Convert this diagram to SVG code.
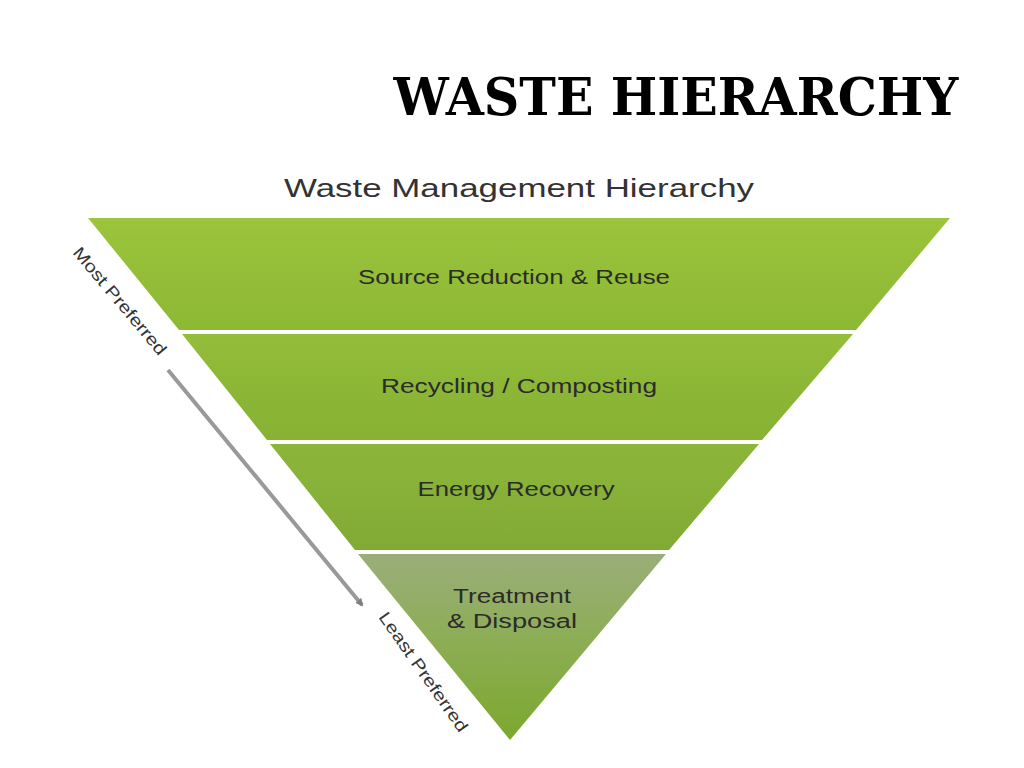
<svg xmlns="http://www.w3.org/2000/svg" width="1024" height="768" viewBox="0 0 1024 768">
<defs>
<linearGradient id="g1" x1="0" y1="0" x2="0" y2="1"><stop offset="0" stop-color="#9cc43c"/><stop offset="1" stop-color="#8cb834"/></linearGradient>
<linearGradient id="g2" x1="0" y1="0" x2="0" y2="1"><stop offset="0" stop-color="#93bd3a"/><stop offset="1" stop-color="#86b132"/></linearGradient>
<linearGradient id="g3" x1="0" y1="0" x2="0" y2="1"><stop offset="0" stop-color="#8cb63a"/><stop offset="1" stop-color="#80aa34"/></linearGradient>
<linearGradient id="g4" x1="0" y1="0" x2="0" y2="1"><stop offset="0" stop-color="#9aae7a"/><stop offset="0.5" stop-color="#8cad52"/><stop offset="1" stop-color="#7aa82e"/></linearGradient>
<marker id="ah" markerWidth="8" markerHeight="8" refX="6" refY="4" orient="auto" markerUnits="userSpaceOnUse"><path d="M0,0 L8,4 L0,8 z" fill="#808080"/></marker>
<style>.lbl{font-family:"Liberation Sans",Arial,sans-serif;font-size:20px;fill:#2b2b2b;text-anchor:middle}
.side{font-family:"Liberation Sans",Arial,sans-serif;font-size:17px;fill:#333}</style>
</defs>
<rect width="1024" height="768" fill="#fff"/>
<text x="676" y="115" font-family="DejaVu Serif, serif" font-weight="bold" font-size="52" text-anchor="middle" textLength="565" lengthAdjust="spacingAndGlyphs" fill="#000">WASTE HIERARCHY</text>
<text x="519" y="197" font-family="Liberation Sans, Arial, sans-serif" font-size="25" fill="#333" text-anchor="middle" textLength="470" lengthAdjust="spacingAndGlyphs">Waste Management Hierarchy</text>
<g id="band1"><polygon points="88,218 950,218 856,330 179,330" fill="url(#g1)"/><text class="lbl" x="514" y="284" textLength="312" lengthAdjust="spacingAndGlyphs">Source Reduction &amp; Reuse</text></g>
<g id="band2"><polygon points="182,334 853,334 762,440 267,440" fill="url(#g2)"/><text class="lbl" x="519" y="393" textLength="276" lengthAdjust="spacingAndGlyphs">Recycling / Composting</text></g>
<g id="band3"><polygon points="270,444 759,444 669,550 355,550" fill="url(#g3)"/><text class="lbl" x="516" y="496" textLength="197" lengthAdjust="spacingAndGlyphs">Energy Recovery</text></g>
<g id="band4"><polygon points="358,554 666,554 510,740" fill="url(#g4)"/><text class="lbl" x="512" y="603" textLength="118" lengthAdjust="spacingAndGlyphs">Treatment</text><text class="lbl" x="512" y="628" textLength="130" lengthAdjust="spacingAndGlyphs">&amp; Disposal</text></g>
<g id="connectors"><line x1="168" y1="370" x2="362" y2="605" stroke="#999" stroke-width="4" marker-end="url(#ah)"/></g>
<text class="side" transform="translate(72,253) rotate(50)" textLength="135" lengthAdjust="spacingAndGlyphs">Most Preferred</text>
<text class="side" transform="translate(378,617) rotate(55)" textLength="142" lengthAdjust="spacingAndGlyphs">Least Preferred</text>
</svg>
